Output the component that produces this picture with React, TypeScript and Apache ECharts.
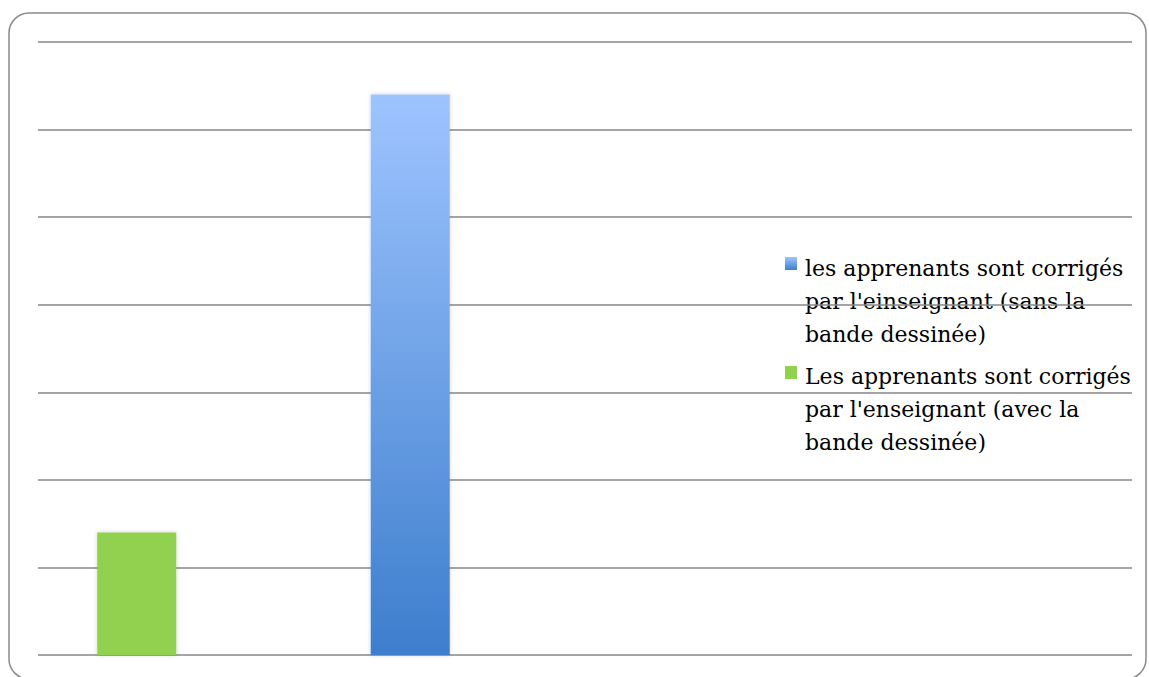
import React, { useEffect, useRef } from "react";
import * as echarts from "echarts";

const categories = ["A", "B"];
const seriesNames = [
  "les apprenants sont corrigés\npar l'einseignant (sans la\nbande dessinée)",
  "Les apprenants sont corrigés\npar l'enseignant (avec la\nbande dessinée)",
];
const sansBD = [null, 32];
const avecBD = [7, null];
const yMax = 35;
const yInterval = 5;

const blueGrad = () =>
  new echarts.graphic.LinearGradient(0, 0, 0, 1, [
    { offset: 0, color: "#9EC4FF" },
    { offset: 1, color: "#3D7ECD" },
  ]);

export default function App() {
  const ref = useRef<HTMLDivElement>(null);
  useEffect(() => {
    document.body.style.margin = "0";
    const chart = echarts.init(ref.current!, null, { renderer: "svg" });
    const font = "'DejaVu Serif', 'Liberation Serif', serif";
    chart.setOption({
      animation: false,
      backgroundColor: "#ffffff",
      grid: [
        { left: 38, right: 17, top: 42, bottom: 22 },
        { left: 0, width: 547, top: 42, bottom: 22 },
      ],
      xAxis: [
        { type: "category", gridIndex: 0, data: categories, show: false },
        { type: "category", gridIndex: 1, data: categories, show: false },
      ],
      yAxis: [
        {
          type: "value",
          gridIndex: 0,
          min: 0,
          max: yMax,
          interval: yInterval,
          axisLabel: { show: false },
          axisLine: { show: false },
          axisTick: { show: false },
          splitLine: { lineStyle: { color: "#878787", width: 1.5 } },
        },
        {
          type: "value",
          gridIndex: 1,
          min: 0,
          max: yMax,
          interval: yInterval,
          show: false,
          splitLine: { show: false },
        },
      ],
      series: [
        {
          name: seriesNames[0],
          type: "bar",
          xAxisIndex: 1,
          yAxisIndex: 1,
          data: sansBD,
          barWidth: 79,
          barGap: "-100%",
          itemStyle: {
            color: blueGrad(),
            shadowColor: "rgba(0,0,0,0.18)",
            shadowBlur: 4,
          },
        },
        {
          name: seriesNames[1],
          type: "bar",
          xAxisIndex: 1,
          yAxisIndex: 1,
          data: avecBD,
          barWidth: 79,
          barGap: "-100%",
          itemStyle: {
            color: "#92D050",
            shadowColor: "rgba(0,0,0,0.18)",
            shadowBlur: 4,
          },
        },
      ],
      graphic: [
        {
          type: "rect",
          shape: { x: 9, y: 13, width: 1137, height: 666, r: 20 },
          style: { fill: "none", stroke: "#8a8a8a", lineWidth: 1.5 },
          silent: true,
        },
        {
          type: "rect",
          shape: { x: 785, y: 257, width: 12, height: 13 },
          style: { fill: blueGrad() },
        },
        {
          type: "text",
          x: 805,
          y: 252,
          style: {
            text: seriesNames[0],
            font: `22px ${font}`,
            lineHeight: 33,
            fill: "#000000",
          },
        },
        {
          type: "rect",
          shape: { x: 785, y: 366, width: 12, height: 13 },
          style: { fill: "#92D050" },
        },
        {
          type: "text",
          x: 805,
          y: 360,
          style: {
            text: seriesNames[1],
            font: `22px ${font}`,
            lineHeight: 33,
            fill: "#000000",
          },
        },
      ],
    });
    return () => chart.dispose();
  }, []);
  return <div ref={ref} style={{ width: 1149, height: 677 }} />;
}
